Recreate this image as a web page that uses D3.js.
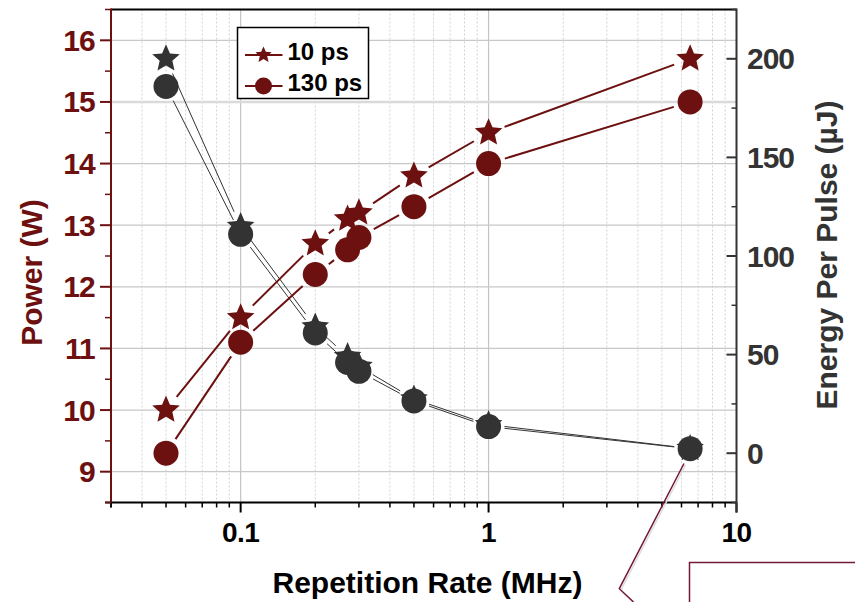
<!DOCTYPE html>
<html>
<head>
<meta charset="utf-8">
<script src="https://cdn.jsdelivr.net/npm/d3@7"></script>
<style>
  body { margin: 0; background: #fff; }
  svg text { font-family: "Liberation Sans", Arial, sans-serif; font-weight: bold; }
</style>
</head>
<body>
<svg id="chart"></svg>
<script>
// repetition rate (MHz)
const rates = [0.05, 0.1, 0.2, 0.27, 0.3, 0.5, 1, 6.5];
// average power (W)
const power10ps = [10.0, 11.5, 12.7, 13.1, 13.2, 13.8, 14.5, 15.7];
const power130ps = [9.3, 11.1, 12.2, 12.6, 12.8, 13.3, 14.0, 15.0];
// energy per pulse (uJ)
const energy10ps = [200, 115, 64, 49, 44, 27.5, 14.5, 2.4];
const energy130ps = [186, 111, 61, 46, 41.5, 26.5, 13.5, 2.3];

const seriesNames = ["10 ps", "130 ps"];
const xTicks = [0.1, 1, 10];
const powerTicks = [9, 10, 11, 12, 13, 14, 15, 16];
const energyTicks = [0, 50, 100, 150, 200];

const width = 855, height = 602;
const margin = { top: 9.5, right: 118.5, bottom: 99.5, left: 111 };
const red = "#6c1010";
const gray = "#333333";

const svg = d3.select("#chart").attr("width", width).attr("height", height);

const x = d3.scaleLog().domain([0.03, 10]).range([margin.left, width - margin.right]);
const yL = d3.scaleLinear().domain([8.5, 16.5]).range([height - margin.bottom, margin.top]);
const yR = d3.scaleLinear().domain([-25, 225]).range([height - margin.bottom, margin.top]);

const x0 = margin.left, x1 = width - margin.right;
const y0 = height - margin.bottom, y1 = margin.top;

// minor decade positions
const minorX = [];
[0.01, 0.1, 1].forEach(dec => {
  for (let k = 2; k <= 9; k++) {
    const v = dec * k;
    if (v >= 0.03 && v < 10) minorX.push(v);
  }
});

// grid
const grid = svg.append("g");
grid.selectAll(".vminor").data(minorX).enter()
  .append("line")
  .attr("x1", d => x(d)).attr("x2", d => x(d))
  .attr("y1", y1).attr("y2", y0)
  .attr("stroke", "#d2d2d2").attr("stroke-width", 1).attr("stroke-dasharray", "2,2");
grid.selectAll(".vmajor").data([0.1, 1]).enter()
  .append("line")
  .attr("x1", d => x(d)).attr("x2", d => x(d))
  .attr("y1", y1).attr("y2", y0)
  .attr("stroke", "#c4c4c4").attr("stroke-width", 1.2);
grid.selectAll(".hmajor").data(powerTicks).enter()
  .append("line")
  .attr("x1", x0).attr("x2", x1)
  .attr("y1", d => yL(d)).attr("y2", d => yL(d))
  .attr("stroke", d => d === 15 ? "#dadada" : "#c8c8c8")
  .attr("stroke-width", d => d === 15 ? 2.5 : 1.2);

// marker shapes
function starPath(R, ratio) {
  const pts = [];
  for (let i = 0; i < 10; i++) {
    const r = i % 2 ? R * ratio : R;
    const a = -Math.PI / 2 + i * Math.PI / 5;
    pts.push([r * Math.cos(a), r * Math.sin(a)]);
  }
  return "M" + pts.map(p => p[0].toFixed(2) + "," + p[1].toFixed(2)).join("L") + "Z";
}

// line with gaps around markers (Origin style)
function gappedLines(g, pts, gap, color, w) {
  for (let i = 0; i < pts.length - 1; i++) {
    const p = pts[i], q = pts[i + 1];
    const dx = q[0] - p[0], dy = q[1] - p[1];
    const d = Math.hypot(dx, dy);
    if (d <= 2 * gap) continue;
    const ux = dx / d, uy = dy / d;
    g.append("line")
      .attr("x1", p[0] + ux * gap).attr("y1", p[1] + uy * gap)
      .attr("x2", q[0] - ux * gap).attr("y2", q[1] - uy * gap)
      .attr("stroke", color).attr("stroke-width", w);
  }
}

function drawPair(vals10, vals130, yScale, color, lineW, gap) {
  const g = svg.append("g");
  const p10 = rates.map((r, i) => [x(r), yScale(vals10[i])]);
  const p130 = rates.map((r, i) => [x(r), yScale(vals130[i])]);
  gappedLines(g, p10, gap, color, lineW);
  gappedLines(g, p130, gap, color, lineW);
  g.selectAll(".star").data(p10).enter()
    .append("path")
    .attr("d", starPath(14.5, 0.46))
    .attr("transform", d => `translate(${d[0]},${d[1]})`)
    .attr("fill", color);
  g.selectAll(".dot").data(p130).enter()
    .append("circle")
    .attr("cx", d => d[0]).attr("cy", d => d[1])
    .attr("r", 12.5)
    .attr("fill", color);
}

drawPair(energy10ps, energy130ps, yR, gray, 1, 16);
drawPair(power10ps, power130ps, yL, red, 2, 17);

// frame: top border
svg.append("line")
  .attr("x1", x0).attr("x2", x1).attr("y1", y1).attr("y2", y1)
  .attr("stroke", "#000").attr("stroke-width", 2);

// bottom axis
const bottom = svg.append("g");
bottom.append("line")
  .attr("x1", x0 - 6).attr("x2", x1).attr("y1", y0).attr("y2", y0)
  .attr("stroke", "#000").attr("stroke-width", 2);
bottom.selectAll(".mt").data([0.03].concat(minorX)).enter()
  .append("line")
  .attr("x1", d => x(d)).attr("x2", d => x(d))
  .attr("y1", y0).attr("y2", y0 + 5)
  .attr("stroke", "#000").attr("stroke-width", 1.5);
bottom.selectAll(".Mt").data(xTicks).enter()
  .append("line")
  .attr("x1", d => x(d)).attr("x2", d => x(d))
  .attr("y1", y0).attr("y2", y0 + 10)
  .attr("stroke", "#000").attr("stroke-width", 2);
bottom.selectAll(".lab").data(xTicks).enter()
  .append("text")
  .attr("x", d => x(d)).attr("y", 541.7)
  .attr("text-anchor", "middle")
  .attr("font-size", 28).attr("letter-spacing", -0.5)
  .attr("fill", "#000")
  .text(d => d3.format("~g")(d));
svg.append("text")
  .attr("x", 427.5).attr("y", 593)
  .attr("text-anchor", "middle")
  .attr("font-size", 30).attr("fill", "#000")
  .text("Repetition Rate (MHz)");

// left axis (power)
const left = svg.append("g");
left.append("line")
  .attr("x1", x0).attr("x2", x0).attr("y1", y1 - 1).attr("y2", y0)
  .attr("stroke", red).attr("stroke-width", 2);
left.selectAll(".mt").data(d3.range(8.5, 16.6, 1)).enter()
  .append("line")
  .attr("x1", x0 - 6).attr("x2", x0)
  .attr("y1", d => yL(d)).attr("y2", d => yL(d))
  .attr("stroke", red).attr("stroke-width", 1.5);
left.selectAll(".Mt").data(powerTicks).enter()
  .append("line")
  .attr("x1", x0 - 11).attr("x2", x0)
  .attr("y1", d => yL(d)).attr("y2", d => yL(d))
  .attr("stroke", red).attr("stroke-width", 2);
left.selectAll(".lab").data(powerTicks).enter()
  .append("text")
  .attr("x", 95).attr("y", d => yL(d) + 10.5)
  .attr("text-anchor", "end")
  .attr("font-size", 30).attr("letter-spacing", -0.8)
  .attr("fill", red)
  .text(d => d);
svg.append("text")
  .attr("transform", "translate(42,272.5) rotate(-90)")
  .attr("text-anchor", "middle")
  .attr("font-size", 30).attr("fill", red)
  .text("Power (W)");

// right axis (energy)
const right = svg.append("g");
right.append("line")
  .attr("x1", x1).attr("x2", x1).attr("y1", y1 - 1).attr("y2", y0 + 10)
  .attr("stroke", gray).attr("stroke-width", 2);
right.selectAll(".mt").data(d3.range(-25, 226, 50)).enter()
  .append("line")
  .attr("x1", x1 - 5).attr("x2", x1)
  .attr("y1", d => yR(d)).attr("y2", d => yR(d))
  .attr("stroke", gray).attr("stroke-width", 1.5);
right.selectAll(".Mt").data(energyTicks).enter()
  .append("line")
  .attr("x1", x1 - 10).attr("x2", x1)
  .attr("y1", d => yR(d)).attr("y2", d => yR(d))
  .attr("stroke", gray).attr("stroke-width", 2);
right.selectAll(".lab").data(energyTicks).enter()
  .append("text")
  .attr("x", 747).attr("y", d => yR(d) + 10.5)
  .attr("text-anchor", "start")
  .attr("font-size", 30).attr("letter-spacing", -1)
  .attr("fill", gray)
  .text(d => d);
svg.append("text")
  .attr("transform", "translate(837,255) rotate(-90)")
  .attr("text-anchor", "middle")
  .attr("font-size", 30).attr("fill", gray)
  .text("Energy Per Pulse (\u00b5J)");

// legend
const legend = svg.append("g");
legend.append("rect")
  .attr("x", 237.5).attr("y", 27.5).attr("width", 131).attr("height", 71)
  .attr("fill", "#fff").attr("stroke", "#000").attr("stroke-width", 1.5);
[55, 86].forEach((ly, i) => {
  legend.append("line")
    .attr("x1", 245).attr("x2", 282.5).attr("y1", ly).attr("y2", ly)
    .attr("stroke", red).attr("stroke-width", 2);
  if (i === 0) {
    legend.append("path").attr("d", starPath(8.5, 0.46))
      .attr("transform", `translate(263.5,${ly})`).attr("fill", red);
  } else {
    legend.append("circle").attr("cx", 263.5).attr("cy", ly).attr("r", 8.5).attr("fill", red);
  }
  legend.append("text")
    .attr("x", 287.5).attr("y", ly + 4.5)
    .attr("font-size", 24).attr("fill", "#000")
    .text(seriesNames[i]);
});

// callout
const callColor = "#74193a";
const callout = svg.append("g");
callout.append("polyline")
  .attr("points", "685.5,465 620.8,590.2 635,603.5")
  .attr("fill", "none").attr("stroke", "#ddd").attr("stroke-width", 1.5);
callout.append("polyline")
  .attr("points", "684,463.5 619.3,588.7 633.5,602")
  .attr("fill", "none").attr("stroke", callColor).attr("stroke-width", 1.5);
callout.append("rect")
  .attr("x", 691.5).attr("y", 564.5).attr("width", 200).attr("height", 100)
  .attr("fill", "#ddd");
callout.append("rect")
  .attr("x", 689.5).attr("y", 562.5).attr("width", 200).attr("height", 100)
  .attr("fill", "#fff").attr("stroke", callColor).attr("stroke-width", 1.5);
</script>
</body>
</html>
